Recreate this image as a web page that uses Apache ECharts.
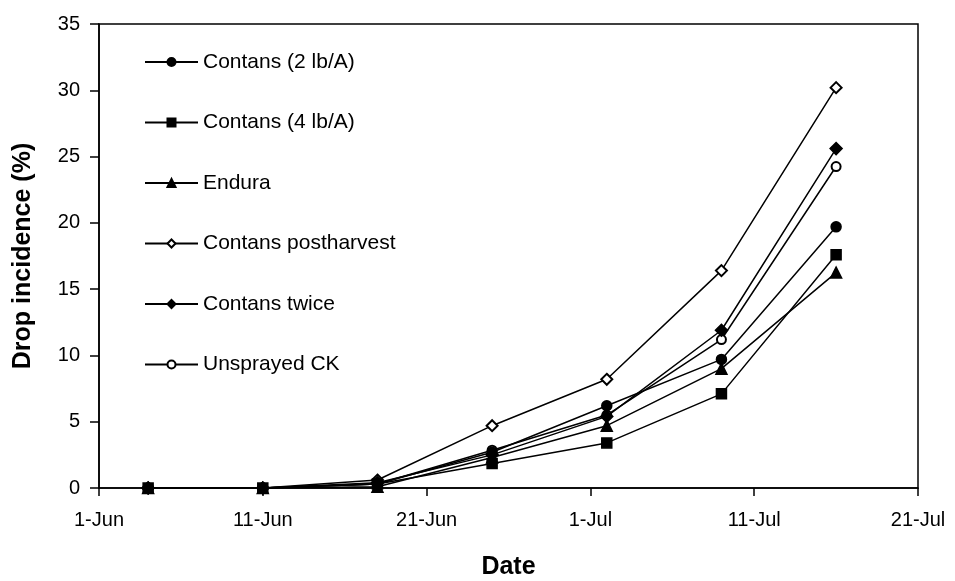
<!DOCTYPE html>
<html>
<head>
<meta charset="utf-8">
<script src="https://cdn.jsdelivr.net/npm/echarts@6/dist/echarts.min.js"></script>
<style>
html,body{margin:0;padding:0;background:#fff;}
#chart{width:955px;height:581px;}
</style>
</head>
<body>
<div id="chart"></div>
<script>
// Sampling dates (year arbitrary)
const sampleDates = ['2000-06-04','2000-06-11','2000-06-18','2000-06-25','2000-07-02','2000-07-09','2000-07-16'];
const axisStartDate = '2000-06-01';
const tickLabels = ['1-Jun','11-Jun','21-Jun','1-Jul','11-Jul','21-Jul'];

const seriesNames = ['Contans (2 lb/A)','Contans (4 lb/A)','Endura','Contans postharvest','Contans twice','Unsprayed CK'];
const contans2 = [0, 0, 0.3, 2.7, 6.2, 9.7, 19.7];
const contans4 = [0, 0, 0.3, 1.85, 3.4, 7.1, 17.6];
const endura = [0, 0, 0.1, 2.3, 4.7, 9.0, 16.25];
const contansPost = [0, 0, 0.6, 4.7, 8.2, 16.4, 30.2];
const contansTwice = [0, 0, 0.4, 2.5, 5.4, 11.9, 25.6];
const unsprayed = [0, 0, 0.3, 2.85, 5.5, 11.2, 24.25];

const DAY = 86400000;
const t0 = Date.parse(axisStartDate + 'T00:00:00Z');
const dayOffsets = sampleDates.map(d => Math.round((Date.parse(d + 'T00:00:00Z') - t0) / DAY));

const FONT = '"Liberation Sans", Arial, sans-serif';

function mk(name, values, symbol, size, z) {
  return {
    name: name,
    type: 'line',
    data: values.map((v, i) => [dayOffsets[i], v]),
    symbol: symbol,
    symbolSize: size,
    showAllSymbol: true,
    lineStyle: { color: '#000', width: 1.5 },
    itemStyle: { color: '#000', borderColor: '#000', borderWidth: 1.5 },
    emphasis: { disabled: true },
    z: z
  };
}

const chart = echarts.init(document.getElementById('chart'), null, { renderer: 'canvas' });
chart.setOption({
  animation: false,
  backgroundColor: '#fff',
  grid: {
    left: 99, right: 37, top: 24, bottom: 93,
    containLabel: false,
    outerBoundsMode: 'none',
    show: true, borderColor: '#000', borderWidth: 1.5, backgroundColor: 'transparent'
  },
  legend: {
    orient: 'vertical',
    left: 139, top: 46.5,
    itemWidth: 53, itemHeight: 10, itemGap: 39.5,
    textStyle: { fontFamily: FONT, fontSize: 21, color: '#000' },
    data: seriesNames,
    selectedMode: false
  },
  xAxis: {
    type: 'value',
    min: 0, max: 50, interval: 10,
    name: 'Date',
    nameLocation: 'middle',
    nameGap: 67,
    nameTextStyle: { fontFamily: FONT, fontSize: 25, fontWeight: 'bold', color: '#000' },
    axisLine: { lineStyle: { color: '#000', width: 1.5 } },
    axisTick: { show: true, inside: false, length: 8, lineStyle: { color: '#000', width: 1.5 } },
    axisLabel: {
      fontFamily: FONT, fontSize: 20, color: '#000', margin: 22,
      formatter: v => tickLabels[Math.round(v / 10)]
    },
    splitLine: { show: false }
  },
  yAxis: {
    type: 'value',
    min: 0, max: 35, interval: 5,
    name: 'Drop incidence (%)',
    nameLocation: 'middle',
    nameGap: 63,
    nameTextStyle: { fontFamily: FONT, fontSize: 25, fontWeight: 'bold', color: '#000' },
    axisLine: { show: true, lineStyle: { color: '#000', width: 1.5 } },
    axisTick: { show: true, inside: false, length: 9, lineStyle: { color: '#000', width: 1.5 } },
    axisLabel: { fontFamily: FONT, fontSize: 20, color: '#000', margin: 19 },
    splitLine: { show: false }
  },
  series: [
    mk(seriesNames[0], contans2, 'circle', 10, 3),
    mk(seriesNames[1], contans4, 'rect', 10, 5),
    mk(seriesNames[2], endura, 'triangle', 11, 4),
    mk(seriesNames[3], contansPost, 'emptyDiamond', [11, 11], 2),
    mk(seriesNames[4], contansTwice, 'diamond', [12, 12], 3),
    mk(seriesNames[5], unsprayed, 'emptyCircle', 9, 2)
  ]
});
</script>
</body>
</html>
